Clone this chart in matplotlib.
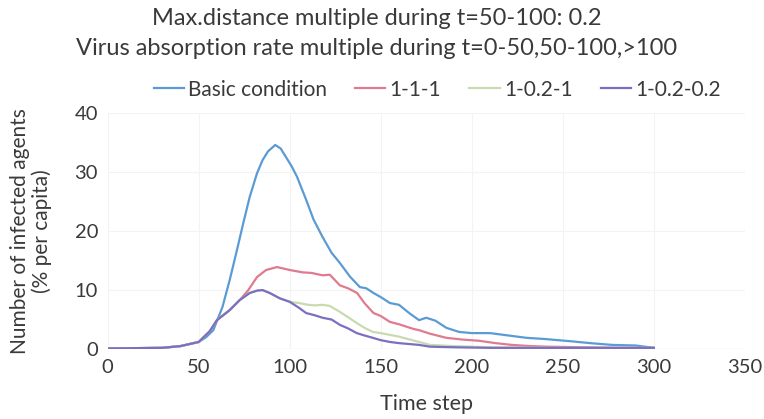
import numpy as np
import matplotlib.pyplot as plt

plt.rcParams['font.family'] = ['Lato', 'DejaVu Sans']

t_basic = [0, 30, 40, 50, 54, 58, 63, 67, 71, 74.5, 78, 82, 85, 88, 92, 95, 98, 101, 104, 109, 113,
           118, 123, 127.5, 133, 138.5, 142, 146, 150, 155, 160, 166, 171, 175, 180, 186, 193, 200,
           210, 220, 230, 240, 255, 265, 277, 290, 300]
y_basic = [0.1, 0.2, 0.5, 1.2, 2.0, 3.2, 7.1, 11.7, 16.8, 21.4, 25.8, 29.8, 32.0, 33.5, 34.6, 34.0,
           32.5, 31.0, 29.2, 25.3, 22.0, 19.0, 16.3, 14.6, 12.3, 10.5, 10.3, 9.5, 8.8, 7.8, 7.5, 6.0,
           4.9, 5.3, 4.8, 3.6, 2.9, 2.7, 2.7, 2.3, 1.9, 1.7, 1.3, 1.0, 0.7, 0.6, 0.2]

t_111 = [0, 30, 40, 50, 56, 60, 67, 72.5, 77, 82, 87, 93, 100, 107, 112, 118, 122, 127.5, 132, 137,
         141, 146, 150, 155, 160, 168, 171, 177, 186, 195, 204, 213, 222, 232, 241, 260, 280, 300]
y_111 = [0.1, 0.2, 0.5, 1.2, 3.0, 4.9, 6.6, 8.3, 9.9, 12.2, 13.4, 13.9, 13.4, 13.0, 12.9, 12.5, 12.6,
         10.8, 10.3, 9.5, 7.8, 6.1, 5.6, 4.6, 4.2, 3.4, 3.2, 2.6, 1.9, 1.6, 1.4, 1.0, 0.7, 0.5, 0.4,
         0.3, 0.2, 0.2]

t_1021 = [0, 30, 40, 50, 56, 60, 67, 72.5, 78, 82, 85, 89, 94.5, 100, 105, 110, 114, 118, 122,
          127.5, 132, 136.8, 141, 145.6, 150, 155, 160, 171, 177, 190, 210, 250, 300]
y_1021 = [0.1, 0.2, 0.5, 1.2, 3.0, 4.9, 6.6, 8.3, 9.5, 9.9, 10.0, 9.5, 8.6, 8.0, 7.8, 7.5, 7.4, 7.5,
          7.3, 6.3, 5.4, 4.4, 3.6, 2.9, 2.7, 2.4, 2.1, 1.2, 0.7, 0.5, 0.3, 0.2, 0.2]

t_10202 = [0, 30, 40, 50, 56, 60, 67, 72.5, 78, 82, 85, 89, 94.5, 100, 105, 109, 114, 118, 123,
           127.5, 132, 136.8, 141, 145.6, 150, 155, 160, 171, 177, 190, 210, 250, 300]
y_10202 = [0.1, 0.2, 0.5, 1.2, 3.0, 4.9, 6.6, 8.3, 9.5, 9.9, 10.0, 9.5, 8.6, 8.0, 7.0, 6.1, 5.7,
           5.3, 5.0, 4.1, 3.5, 2.7, 2.3, 1.9, 1.5, 1.2, 1.0, 0.7, 0.4, 0.3, 0.2, 0.2, 0.2]

labels = ['Basic condition', '1-1-1', '1-0.2-1', '1-0.2-0.2']
colors = ['#5b9bd5', '#e07a8f', '#c8dbb0', '#7b6fc2']
txt = '#3a3a3a'

fig = plt.figure(figsize=(7.64, 4.19), dpi=100)
ax = fig.add_axes([0.141, 0.167, 0.834, 0.563])

series = [(t_basic, y_basic), (t_111, y_111), (t_1021, y_1021), (t_10202, y_10202)]
for (t, y), lab, c in zip(series, labels, colors):
    ax.plot(t, y, color=c, lw=1.6, label=lab)

ax.set_xlim(0, 350)
ax.set_ylim(0, 40)
ax.set_xticks(np.arange(0, 351, 50))
ax.set_yticks(np.arange(0, 41, 10))
ax.grid(True, color='#f3f3f3', lw=0.8)
ax.set_axisbelow(True)
for s in ax.spines.values():
    s.set_visible(False)
ax.axhline(0, color='#d9d9d9', lw=0.8, zorder=0)
ax.tick_params(length=0, labelsize=14.5, colors=txt, pad=7)

ax.set_xlabel('Time step', fontsize=15.5, color=txt, labelpad=13)
ax.set_ylabel('Number of infected agents\n(% per capita)', fontsize=15, color=txt,
              labelpad=16, linespacing=1.1)

fig.text(0.493, 0.955, 'Max.distance multiple during t=50-100: 0.2', ha='center', va='center',
         fontsize=17, color=txt)
fig.text(0.493, 0.884, 'Virus absorption rate multiple during t=0-50,50-100,>100', ha='center',
         va='center', fontsize=17, color=txt)

ax.legend(loc='center', bbox_to_anchor=(0.517, 1.1), ncol=4, frameon=False, fontsize=15,
          handlelength=1.45, handletextpad=0.2, columnspacing=1.35, labelcolor=txt)

fig.savefig('out.png', dpi=100)
